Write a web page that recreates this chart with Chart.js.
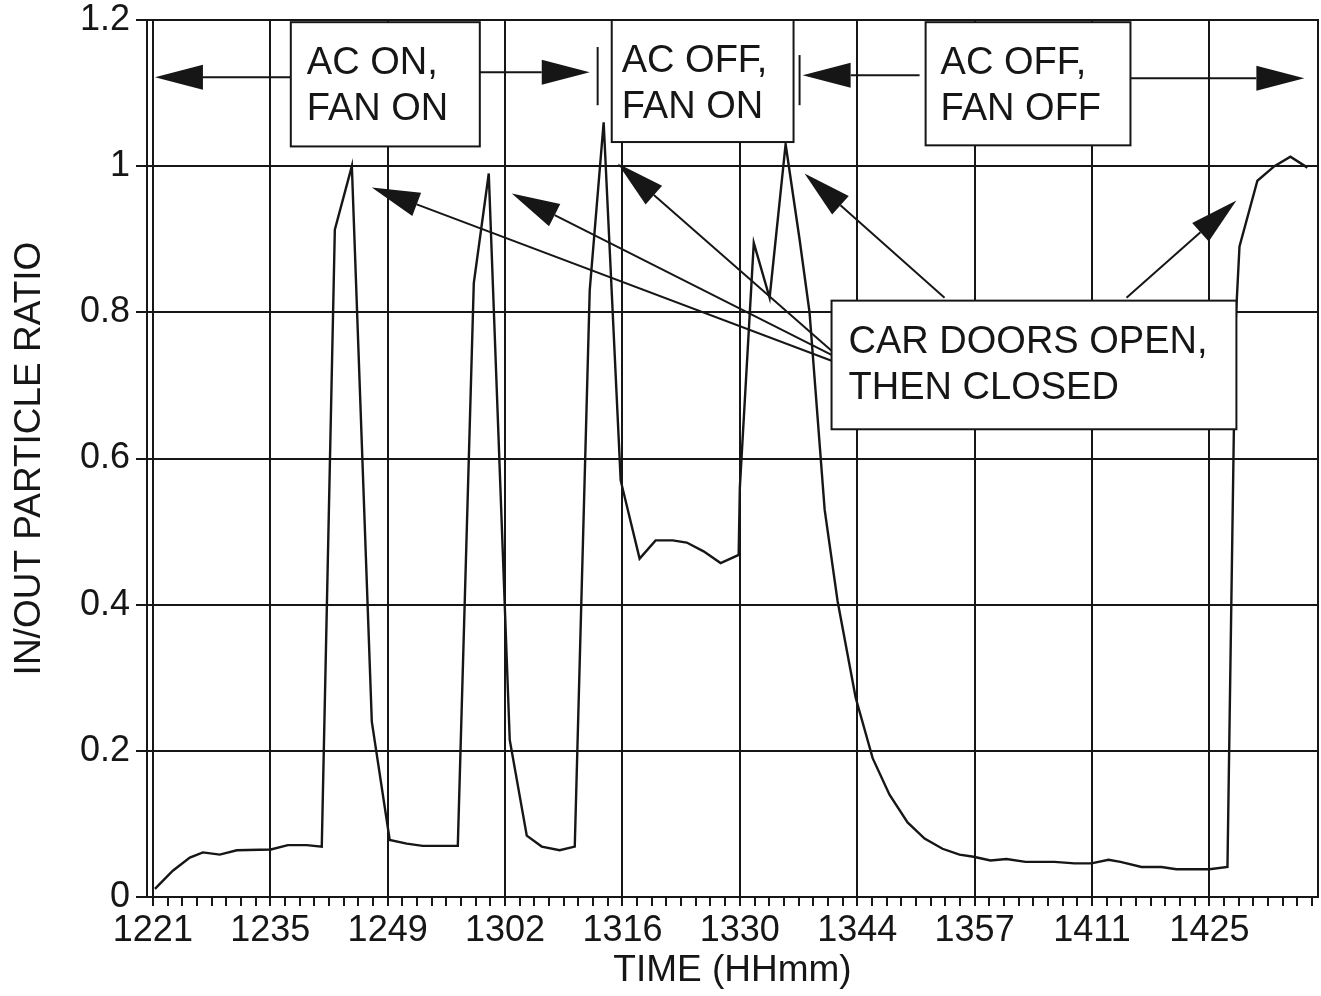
<!DOCTYPE html>
<html><head><meta charset="utf-8">
<script src="https://cdn.jsdelivr.net/npm/chart.js@4.4.0/dist/chart.umd.min.js"></script>
<style>html,body{margin:0;padding:0;background:#fff;}#wrap{width:1321px;height:996px;}</style>
</head><body><div id="wrap"><canvas id="c" width="1321" height="996"></canvas></div>
<script>
// ---- data ----
// x position in axis steps (8 steps between labelled ticks)
const tickLabels = ['1221','1235','1249','1302','1316','1330','1344','1357','1411','1425'];
const timeStep = [0.14,1.36,2.52,3.41,4.56,5.72,8.04,9.20,10.49,11.51,12.40,13.56,14.92,16.14,17.30,18.39,20.78,21.87,22.89,24.32,25.48,26.50,27.72,28.75,29.77,30.72,31.88,33.17,34.26,35.42,36.38,37.53,38.69,39.92,40.00,40.95,42.03,43.12,44.07,44.75,45.78,46.66,47.89,49.05,50.20,51.43,52.59,53.81,54.97,55.93,57.08,58.17,59.47,61.44,62.81,63.96,65.12,65.94,67.37,68.73,69.75,72.00,73.23,73.77,74.05,75.27,76.43,77.52,78.68];
const inOutRatio = [0.011,0.036,0.054,0.061,0.058,0.064,0.065,0.071,0.071,0.069,0.913,1.0,0.24,0.078,0.073,0.07,0.07,0.84,0.99,0.215,0.084,0.069,0.064,0.069,0.83,1.06,0.57,0.463,0.488,0.488,0.485,0.473,0.457,0.468,0.56,0.895,0.82,1.03,0.9,0.8,0.53,0.405,0.273,0.19,0.14,0.102,0.08,0.066,0.058,0.055,0.05,0.052,0.048,0.048,0.046,0.046,0.051,0.048,0.041,0.041,0.038,0.038,0.041,0.78,0.89,0.98,1.0,1.013,0.998];
const yTicks = [0,0.2,0.4,0.6,0.8,1,1.2];
const yTickLabels = ['0','0.2','0.4','0.6','0.8','1','1.2'];

// ---- annotations (data units) ----
const boxNotes = [
  {x0:9.40, x1:22.28, y0:1.027, y1:1.197, pad:16, lines:['AC ON,','FAN ON']},
  {x0:31.27, x1:43.66, y0:1.033, y1:1.2, pad:10, lines:['AC OFF,','FAN ON']},
  {x0:52.66, x1:66.62, y0:1.0285, y1:1.197, pad:15, lines:['AC OFF,','FAN OFF']},
  {x0:46.25, x1:73.84, y0:0.640, y1:0.816, pad:17, lines:['CAR DOORS OPEN,','THEN CLOSED']}
];
const arrowNotes = [
  {from:[9.40,1.1218], to:[0.14,1.1218]},
  {from:[21.73,1.1286], to:[29.77,1.1286]},
  {from:[52.25,1.1245], to:[44.28,1.1245]},
  {from:[66.62,1.1204], to:[78.47,1.1204]},
  {from:[46.25,0.7337], to:[14.92,0.9709]},
  {from:[46.25,0.7419], to:[24.46,0.9627]},
  {from:[46.25,0.7474], to:[31.68,1.0038]},
  {from:[53.95,0.8201], to:[44.41,0.9901]},
  {from:[66.35,0.8201], to:[73.84,0.9531]}
];
const barNotes = [
  {x:30.31, y0:1.0834, y1:1.163},
  {x:44.07, y0:1.0834, y1:1.152}
];

const INK = '#161616';
const FONT = "'Liberation Sans', Arial, Helvetica, sans-serif";

const notesPlugin = {
  id: 'notes',
  afterDatasetsDraw(chart) {
    const {ctx, chartArea: a} = chart;
    const xs = chart.scales.x, ys = chart.scales.y;
    const X = u => xs.getPixelForValue(u), Y = v => ys.getPixelForValue(v);
    ctx.save();
    ctx.strokeStyle = INK; ctx.fillStyle = INK; ctx.lineWidth = 2;
    // top and right frame
    ctx.beginPath(); ctx.moveTo(a.left, a.top); ctx.lineTo(a.right, a.top); ctx.lineTo(a.right, a.bottom); ctx.stroke();
    // arrows
    arrowNotes.forEach(ar => {
      const x0 = X(ar.from[0]), y0 = Y(ar.from[1]), x1 = X(ar.to[0]), y1 = Y(ar.to[1]);
      const ang = Math.atan2(y1 - y0, x1 - x0), L = 48, W = 12.5;
      const bx = x1 - L * Math.cos(ang), by = y1 - L * Math.sin(ang);
      ctx.beginPath(); ctx.moveTo(x0, y0); ctx.lineTo(bx, by); ctx.stroke();
      ctx.beginPath(); ctx.moveTo(x1, y1);
      ctx.lineTo(bx + W * Math.sin(ang), by - W * Math.cos(ang));
      ctx.lineTo(bx - W * Math.sin(ang), by + W * Math.cos(ang));
      ctx.closePath(); ctx.fill();
    });
    barNotes.forEach(b => {
      ctx.beginPath(); ctx.moveTo(X(b.x), Y(b.y0)); ctx.lineTo(X(b.x), Y(b.y1)); ctx.stroke();
    });
    // boxes
    ctx.font = '38px ' + FONT; ctx.textBaseline = 'alphabetic'; ctx.textAlign = 'left';
    boxNotes.forEach(b => {
      const l = X(b.x0), r = X(b.x1), t = Y(b.y1), bt = Y(b.y0);
      ctx.fillStyle = '#fff'; ctx.fillRect(l, t, r - l, bt - t);
      ctx.strokeRect(l, t, r - l, bt - t);
      ctx.fillStyle = INK;
      b.lines.forEach((s, i) => ctx.fillText(s, l + b.pad, t + 52 + i * 46));
    });
    ctx.restore();
  }
};

const isMajor = v => Math.abs(v - Math.round(v / 8) * 8) < 1e-6;

new Chart(document.getElementById('c'), {
  type: 'line',
  data: {
    datasets: [{
      data: timeStep.map((t, i) => ({x: t, y: inOutRatio[i]})),
      borderColor: INK, borderWidth: 2.4, pointRadius: 0, tension: 0, fill: false
    }]
  },
  options: {
    responsive: false, animation: false, devicePixelRatio: 1,
    layout: {padding: {top: 20, right: 3, left: 0, bottom: 0}},
    plugins: {legend: {display: false}, tooltip: {enabled: false}},
    scales: {
      x: {
        type: 'linear', min: -0.4, max: 79.4,
        ticks: {
          stepSize: 1, autoSkip: false, maxRotation: 0, minRotation: 0, includeBounds: false,
          padding: 3, color: INK, font: {family: FONT, size: 36},
          callback: v => isMajor(v) ? (tickLabels[Math.round(v / 8)] ?? '') : ''
        },
        grid: {
          color: c => (c.tick && isMajor(c.tick.value)) ? INK : 'rgba(0,0,0,0)',
          tickColor: INK, lineWidth: 2, tickLength: 9
        },
        border: {color: INK, width: 2},
        title: {display: true, text: 'TIME (HHmm)', color: INK, font: {family: FONT, size: 37}, padding: {top: 0, bottom: 3}},
        afterFit: s => { s.height = 99; }
      },
      y: {
        min: 0, max: 1.2,
        afterBuildTicks: s => { s.ticks = yTicks.map(v => ({value: v})); },
        ticks: {padding: 6, color: INK, font: {family: FONT, size: 36, lineHeight: 0.6},
          callback: (v, i) => yTickLabels[yTicks.indexOf(v)] ?? String(v)},
        grid: {color: INK, lineWidth: 2, tickLength: 11},
        border: {color: INK, width: 2},
        title: {display: true, text: 'IN/OUT PARTICLE RATIO', color: INK, font: {family: FONT, size: 37}, padding: {top: 8, bottom: 0}},
        afterFit: s => { s.width = 147; }
      }
    }
  },
  plugins: [notesPlugin]
});
</script></body></html>
